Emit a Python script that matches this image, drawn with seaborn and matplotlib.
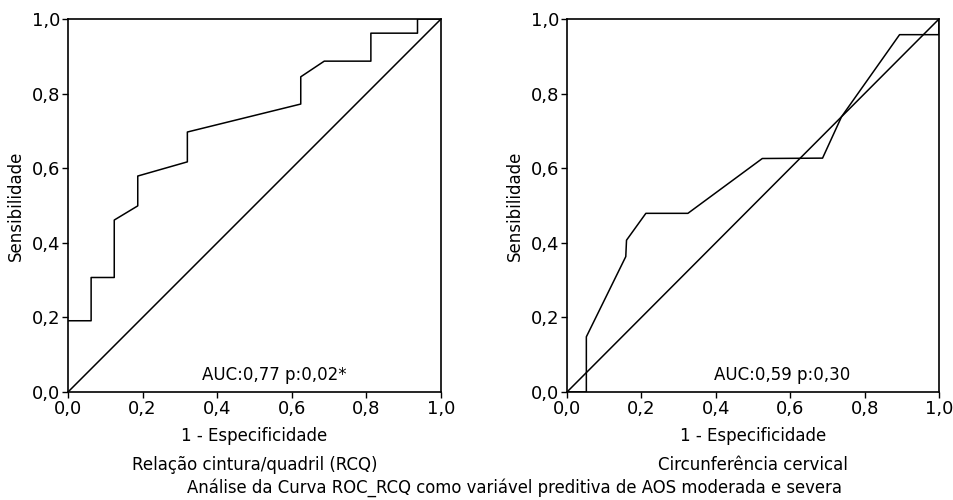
import numpy as np
import pandas as pd
import seaborn as sns
import matplotlib
matplotlib.use("Agg")
import matplotlib.pyplot as plt
from matplotlib.ticker import FuncFormatter

# ROC curve for RCQ (1 - especificidade, sensibilidade)
rcq_fpr = [0.0, 0.062, 0.062, 0.124, 0.124, 0.187, 0.187, 0.320, 0.320, 0.624, 0.624, 0.687, 0.812, 0.812, 0.937, 0.937, 1.0]
rcq_tpr = [0.191, 0.191, 0.307, 0.307, 0.461, 0.499, 0.579, 0.617, 0.697, 0.772, 0.845, 0.887, 0.887, 0.962, 0.962, 1.0, 1.0]

# ROC curve for circunferencia cervical
cc_fpr = [0.0, 0.052, 0.052, 0.158, 0.160, 0.212, 0.325, 0.525, 0.687, 0.738, 0.894, 1.0, 1.0]
cc_tpr = [0.0, 0.0, 0.148, 0.363, 0.407, 0.479, 0.479, 0.626, 0.627, 0.738, 0.958, 0.958, 1.0]

ref_line = [0.0, 1.0]
ticks = [0.0, 0.2, 0.4, 0.6, 0.8, 1.0]

panels = [
    ("Relação cintura/quadril (RCQ)", rcq_fpr, rcq_tpr, "AUC:0,77 p:0,02*", 0.552),
    ("Circunferência cervical", cc_fpr, cc_tpr, "AUC:0,59 p:0,30", 0.578),
]

sns.set_theme(style="white")
plt.rcParams['font.family'] = ['DejaVu Sans']
plt.rcParams['text.color'] = 'black'
plt.rcParams['axes.labelcolor'] = 'black'
plt.rcParams['xtick.color'] = 'black'
plt.rcParams['ytick.color'] = 'black'

fig = plt.figure(figsize=(9.54, 5.0), dpi=100)
ax_pos = [[68 / 954, 108 / 500, 373 / 954, 373 / 500],
          [567 / 954, 108 / 500, 372 / 954, 373 / 500]]

comma = FuncFormatter(lambda v, p: f"{v:.1f}".replace(".", ","))

for pos, (name, fpr, tpr, auc_txt, auc_x) in zip(ax_pos, panels):
    ax = fig.add_axes(pos)
    df = pd.DataFrame({"fpr": fpr, "tpr": tpr})
    sns.lineplot(data=df, x="fpr", y="tpr", sort=False, estimator=None,
                 color="black", linewidth=1.1, ax=ax)
    sns.lineplot(x=ref_line, y=ref_line, sort=False, estimator=None,
                 color="black", linewidth=1.1, ax=ax)
    ax.set_xlim(0, 1)
    ax.set_ylim(0, 1)
    ax.set_xticks(ticks)
    ax.set_yticks(ticks)
    ax.xaxis.set_major_formatter(comma)
    ax.yaxis.set_major_formatter(comma)
    ax.tick_params(axis="both", which="major", direction="out", length=4.5,
                   width=1, color="black", labelsize=13, pad=1,
                   bottom=True, left=True)
    for s in ax.spines.values():
        s.set_color("black")
        s.set_linewidth(1.2)
    ax.set_xlabel("1 - Especificidade\n" + name, fontsize=12, linespacing=1.75, labelpad=7)
    ax.set_ylabel("Sensibilidade", fontsize=12, labelpad=5)
    ax.text(auc_x, 0.045, auc_txt, transform=ax.transAxes, ha="center",
            va="center", fontsize=12)
    ax.grid(False)

fig.text(0.539, 0.024, "Análise da Curva ROC_RCQ como variável preditiva de AOS moderada e severa",
         ha="center", va="center", fontsize=11.9)

fig.savefig("out.png", dpi=100, facecolor="white")
